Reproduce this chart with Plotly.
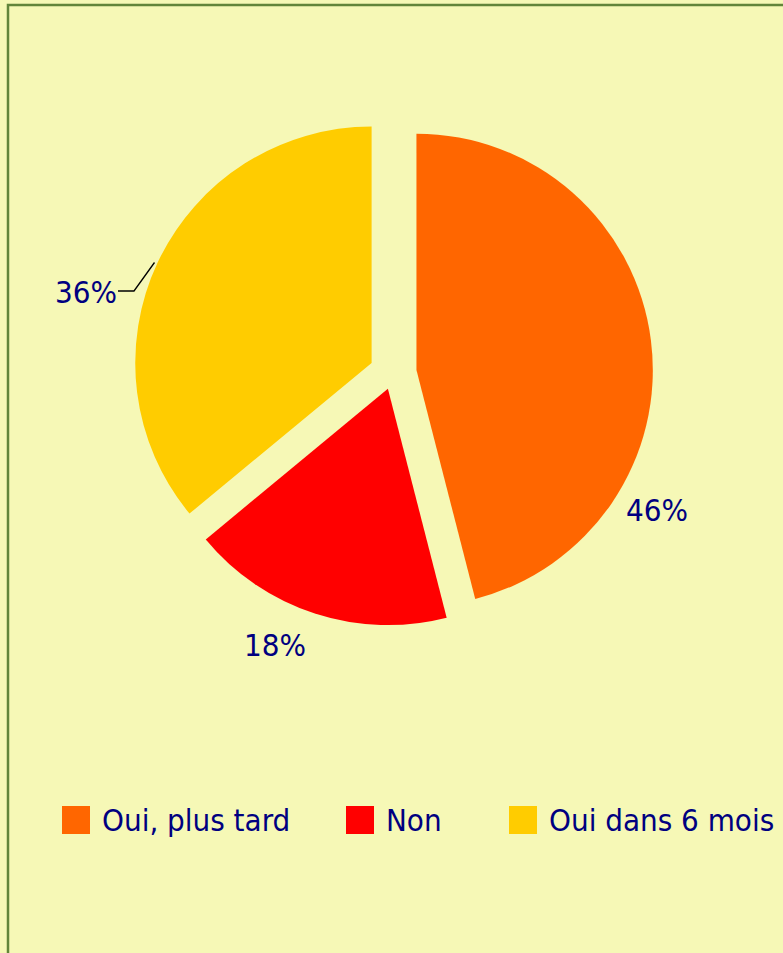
import plotly.graph_objects as go

# ---- data ----
categories = ["Oui, plus tard", "Non", "Oui dans 6 mois"]
values = [46, 18, 36]
colors = ["#FF6600", "#FF0000", "#FFCC00"]
pulls = [0.1, 0.07, 0.1]

W, H = 783, 953
BG = "#F6F8B6"
TXT = "#000080"
FONT = "Liberation Sans Narrow, Arial Narrow, DejaVu Sans Condensed, sans-serif"
FS = 31


def fx(x):
    return x / W


def fy(y):
    return 1 - y / H


# pie geometry (pixels): centre and outer box including pull
cx, cy, R = 393, 373, 260

fig = go.Figure()
fig.add_trace(go.Pie(
    labels=categories,
    values=values,
    marker=dict(colors=colors, line=dict(width=0)),
    pull=pulls,
    sort=False,
    direction="clockwise",
    rotation=0,
    textinfo="none",
    hoverinfo="label+percent",
    showlegend=False,
    domain=dict(x=[fx(cx - R), fx(cx + R)], y=[fy(cy + R), fy(cy - R)]),
))

# data labels (positions as placed in the reference)
label_pos = [(657, 510), (275, 645), (86, 292)]
annotations = []
for v, (lx, ly) in zip(values, label_pos):
    annotations.append(dict(
        x=fx(lx), y=fy(ly), xref="paper", yref="paper",
        text=f"{v}%", showarrow=False, xanchor="center", yanchor="middle",
        font=dict(family=FONT, size=FS, color=TXT),
    ))

shapes = []
# leader line for the 36% label
shapes.append(dict(
    type="path", xref="paper", yref="paper",
    path=f"M {fx(118)},{fy(291)} L {fx(134)},{fy(291)} L {fx(154.5)},{fy(262.5)}",
    line=dict(color="black", width=1.3),
))

# custom legend
leg_x = [62, 346, 509]
leg_y = 820
sq = 28
for cat, col, lx in zip(categories, colors, leg_x):
    shapes.append(dict(
        type="rect", xref="paper", yref="paper",
        x0=fx(lx), x1=fx(lx + sq), y0=fy(leg_y + sq / 2), y1=fy(leg_y - sq / 2),
        fillcolor=col, line=dict(width=0),
    ))
    annotations.append(dict(
        x=fx(lx + sq + 10), y=fy(leg_y), xref="paper", yref="paper",
        text=cat, showarrow=False, xanchor="left", yanchor="middle",
        font=dict(family=FONT, size=FS, color=TXT),
    ))

# chart area border (only top & left are visible in the frame)
shapes.append(dict(
    type="rect", xref="paper", yref="paper",
    x0=fx(8), x1=fx(W + 20), y0=fy(H + 20), y1=fy(5),
    line=dict(color="#62853A", width=2.5), fillcolor="rgba(0,0,0,0)",
))

fig.update_layout(
    width=W, height=H,
    margin=dict(l=0, r=0, t=0, b=0),
    paper_bgcolor=BG,
    plot_bgcolor=BG,
    annotations=annotations,
    shapes=shapes,
    showlegend=False,
)

fig.write_html(
    "out.html",
    config={"displayModeBar": False},
    post_script="document.body.style.margin='0';document.body.style.overflow='hidden';",
)
